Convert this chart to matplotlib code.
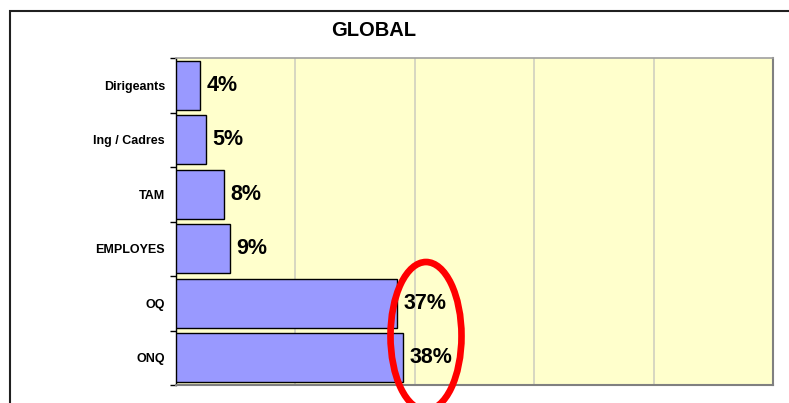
import matplotlib
matplotlib.use("Agg")
import matplotlib.pyplot as plt
from matplotlib.patches import Ellipse, Rectangle
import numpy as np

categories = ["Dirigeants", "Ing / Cadres", "TAM", "EMPLOYES", "OQ", "ONQ"]
values = [4, 5, 8, 9, 37, 38]
value_labels = ["4%", "5%", "8%", "9%", "37%", "38%"]
title = "GLOBAL"

plt.rcParams['font.family'] = ['Liberation Sans', 'DejaVu Sans']

W, H = 789, 403
fig = plt.figure(figsize=(W / 100, H / 100), dpi=100)

def fx(px):
    return px / W

def fy(py):
    return 1 - py / H

ax = fig.add_axes([fx(176), fy(385), fx(773) - fx(176), fy(58) - fy(385)])
ax.set_facecolor("#FFFFCC")

n = len(categories)
ypos = np.arange(n)
ax.barh(ypos, values, height=0.9, color="#9999FF", edgecolor="black", linewidth=1.0, zorder=3)

ax.set_xlim(0, 100)
ax.set_ylim(n - 0.5, -0.5)
ax.set_xticks([20, 40, 60, 80])
ax.xaxis.grid(True, color="#CFCFBF", linewidth=1.2, zorder=0)
ax.tick_params(axis="x", length=0, labelbottom=False)

ax.set_yticks(ypos)
ax.set_yticklabels(categories, fontsize=9, fontweight="bold")
ax.tick_params(axis="y", which="major", length=0, pad=8)
ax.set_yticks(np.arange(-0.5, n, 1.0), minor=True)
ax.tick_params(axis="y", which="minor", length=4, width=1, color="black", direction="out")

ax.spines["left"].set_color("black")
ax.spines["left"].set_linewidth(1.0)
ax.spines["top"].set_color("#A0A0A0")
ax.spines["right"].set_color("#808080")
ax.spines["bottom"].set_color("#808080")
ax.spines["right"].set_linewidth(1.5)
ax.spines["bottom"].set_linewidth(1.5)
ax.spines["top"].set_linewidth(1.2)

for y, v, lab in zip(ypos, values, value_labels):
    ax.annotate(lab, xy=(v, y), xytext=(5, 0), textcoords="offset points",
                va="center", ha="left", fontsize=15.5, fontweight="bold", zorder=5)

fig.text(fx(374), fy(30), title, ha="center", va="center", fontsize=14.5, fontweight="bold")

# outer frame
fig.patches.append(Rectangle((fx(10), fy(430)), fx(820) - fx(10), fy(11) - fy(430),
                             transform=fig.transFigure, fill=False, edgecolor="#202020",
                             linewidth=1.5, zorder=10))

# red highlight ellipse
fig.patches.append(Ellipse((fx(426), fy(336)), fx(71), 148 / H, transform=fig.transFigure,
                           fill=False, edgecolor="#FF0000", linewidth=4.8, zorder=20))

fig.savefig("out.png", dpi=100)
